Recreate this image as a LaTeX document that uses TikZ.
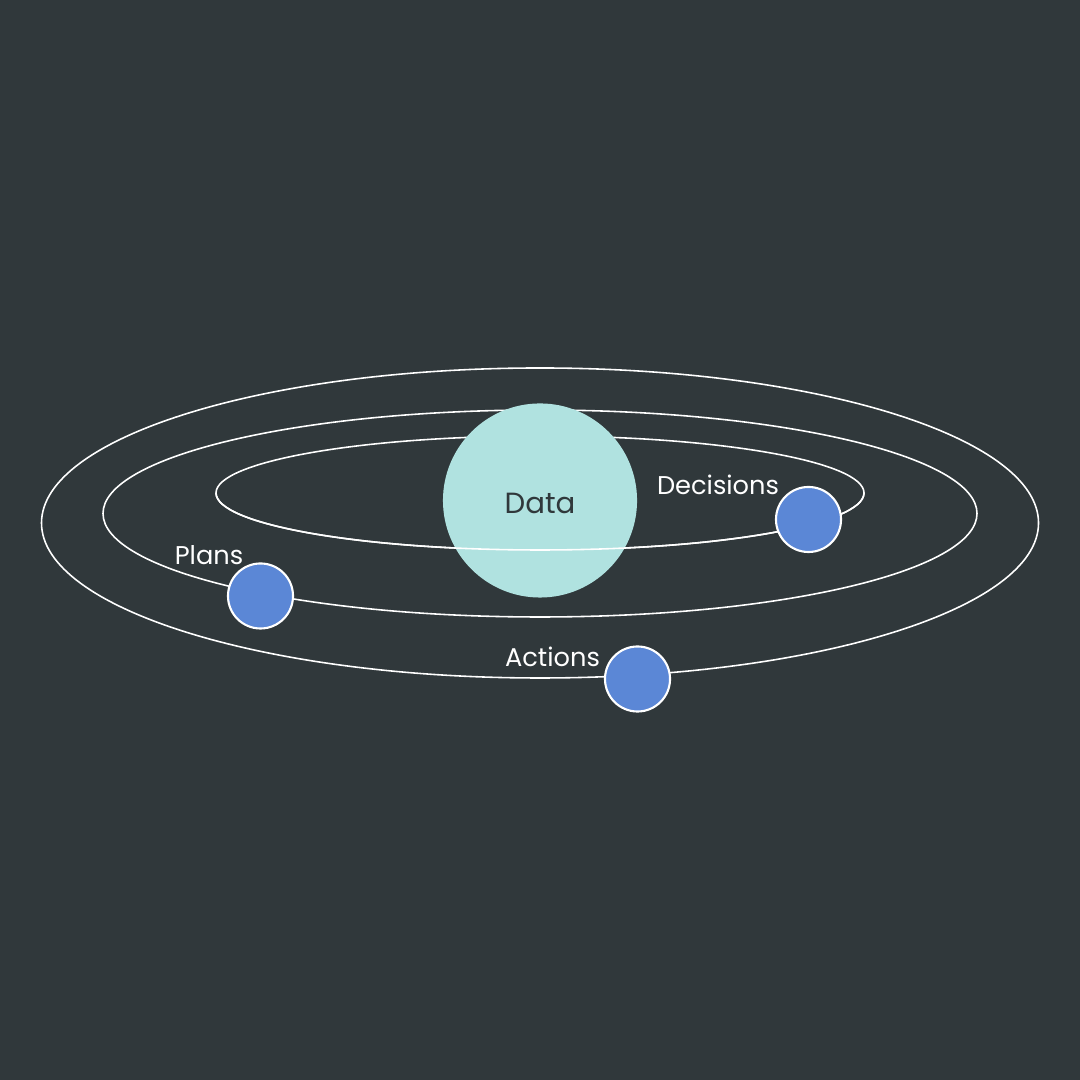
\documentclass[tikz,border=0pt]{standalone}
\usepackage{fontspec}
\setmainfont{Poppins}
\definecolor{bgslate}{HTML}{30383B}
\definecolor{datafill}{HTML}{B0E2E0}
\definecolor{planetblue}{HTML}{5B87D6}

\begin{document}
\begin{tikzpicture}[x=0.01cm, y=0.01cm,
  orbit/.style={draw=white, line width=0.45pt},
  planet/.style={circle, fill=planetblue, draw=white, line width=0.6pt, minimum size=0.65cm, inner sep=0},
  tag/.style={text=white, inner sep=0, font=\fontsize{7.3}{9}\selectfont}]
  \fill [bgslate] (0,0) rectangle (1080,1080);
  \useasboundingbox (0,0) rectangle (1080,1080);
  % orbits
  \draw [orbit] (540,557) ellipse [x radius=498.5, y radius=155];
  \draw [orbit] (540,566.5) ellipse [x radius=437, y radius=103.5];
  \draw [orbit] (540,587) ellipse [x radius=324, y radius=57];
  % centre
  \node (data) [circle, fill=datafill, minimum size=1.94cm, inner sep=0] at (540,579.5) {};
  \node [text=bgslate, inner sep=0, font=\fontsize{8.3}{10}\selectfont] at (540,577) {Data};
  % front half of inner orbit
  \draw [orbit] (216,587) arc [start angle=180, end angle=360, x radius=324, y radius=57];
  % planets
  \node (decisions) [planet] at (808.5,560.5) {};
  \node (plans) [planet] at (260.5,484) {};
  \node (actions) [planet] at (637.5,401) {};
  \node [tag] at (718,595) {Decisions};
  \node [tag] at (209,525) {Plans};
  \node [tag] at (552.5,423) {Actions};
\end{tikzpicture}
\end{document}
